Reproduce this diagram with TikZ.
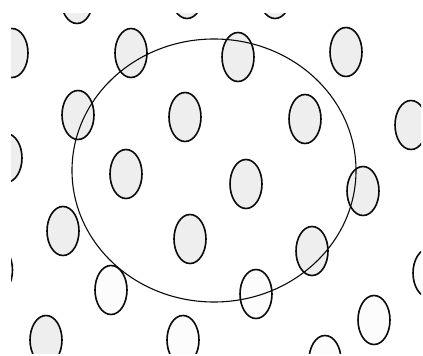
\documentclass[tikz,border=0pt]{standalone}
\definecolor{cEdge}{HTML}{0A0A0A}
\definecolor{cGrain}{HTML}{EEEEEE}
\definecolor{cPale}{HTML}{FCFCFC}

\begin{document}
\begin{tikzpicture}[
  x=1pt, y=-1pt,
  grain/.style={draw=cEdge, fill=cGrain, line width=1.6pt},
  pale/.style={draw=cEdge, fill=cPale, line width=1.6pt},
  ring/.style={draw=cEdge, line width=1.1pt}
]

  \useasboundingbox (0,0) rectangle (423,356);

  \begin{scope}
    \clip (11,13) rectangle (421,353);

    \foreach \cx/\cy in {77/-1, 187/-6, 275/-6,
                         12/53, 131/53, 238/57, 346/52,
                         78/115, 185/117, 305/119, 411/125,
                         6/158, 126/174, 246/184, 363/191,
                         63/231, 190/239, 312/251,
                         46/340}
      \draw[grain] (\cx,\cy) ellipse [x radius=16pt, y radius=24.5pt];

    \foreach \cx/\cy in {429/273, -3.5/270,
                         111/290, 256/294, 374/320,
                         183/340, 325/360}
      \draw[pale] (\cx,\cy) ellipse [x radius=16pt, y radius=24.5pt];

    \draw[ring] (214,170.5) ellipse [x radius=142pt, y radius=131.5pt];
  \end{scope}

\end{tikzpicture}
\end{document}
